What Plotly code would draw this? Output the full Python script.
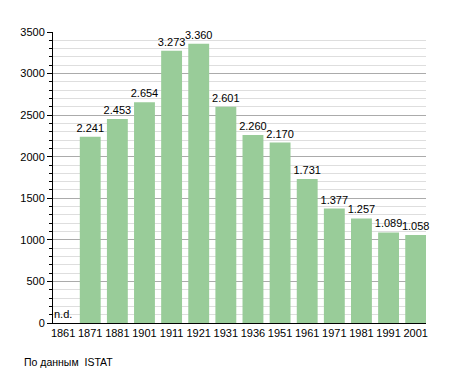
import plotly.graph_objects as go

years = ["1861", "1871", "1881", "1901", "1911", "1921", "1931", "1936",
         "1951", "1961", "1971", "1981", "1991", "2001"]
population = [None, 2241, 2453, 2654, 3273, 3360, 2601, 2260,
              2170, 1731, 1377, 1257, 1089, 1058]
labels = ["", "2.241", "2.453", "2.654", "3.273", "3.360", "2.601", "2.260",
          "2.170", "1.731", "1.377", "1.257", "1.089", "1.058"]

font = "Liberation Sans, Arial, sans-serif"

fig = go.Figure(go.Bar(
    x=years, y=population, text=labels, textposition="outside",
    constraintext="none",
    marker=dict(color="#99cc99", line=dict(width=0)),
    textfont=dict(family=font, size=11, color="black"),
    cliponaxis=False,
))

fig.add_annotation(x=0, y=0, xref="x", yref="y", text="n.d.", showarrow=False,
                   xanchor="center", yanchor="bottom", yshift=1,
                   font=dict(family=font, size=11, color="black"))
fig.add_annotation(x=-31 / 376, y=-39 / 291, xref="paper", yref="paper",
                   text="По данным  ISTAT", showarrow=False,
                   xanchor="left", yanchor="middle",
                   font=dict(family=font, size=10.5, color="black"))

# page body has an 8px margin, so the figure starts at (8, 8) in the window
fig.update_layout(
    width=447, height=365,
    margin=dict(l=42, r=29, t=24, b=50),
    paper_bgcolor="white", plot_bgcolor="white",
    bargap=0.23, showlegend=False,
    font=dict(family=font, size=11, color="black"),
    xaxis=dict(type="category", range=[-0.373, 13.38], showline=True,
               linecolor="black", linewidth=1, ticks="", showgrid=False,
               tickfont=dict(size=11)),
    yaxis=dict(range=[0, 3500], tick0=0, dtick=500, showline=True,
               linecolor="black", linewidth=1, ticks="outside", ticklen=5,
               tickcolor="black", gridcolor="#ababab", gridwidth=1,
               zeroline=False, tickfont=dict(size=11),
               minor=dict(dtick=100, ticks="outside", ticklen=3,
                          tickcolor="black", showgrid=True,
                          gridcolor="#dedede", gridwidth=1)),
)

fig.write_html("out.html")
